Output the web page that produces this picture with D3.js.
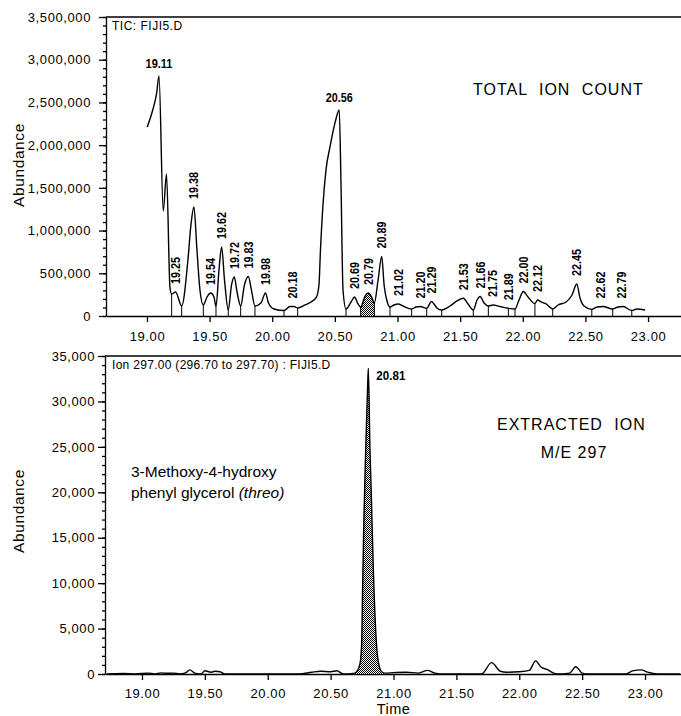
<!DOCTYPE html>
<html>
<head>
<meta charset="utf-8">
<script src="https://cdn.jsdelivr.net/npm/d3@7"></script>
<style>
body { margin: 0; background: #fff; }
svg { display: block; }
text { font-family: "Liberation Sans", Arial, sans-serif; fill: #000; }
.tick text { font-size: 13px; letter-spacing: 0.6px; }
.tick line, .domain { stroke: #000; stroke-width: 1.3px; }
.peak { font-size: 12.5px; font-weight: bold; }
</style>
</head>
<body>
<svg width="681" height="716"></svg>
<script>
/*
Data
*/

// total ion count trace (minutes, abundance)
var ticTime = [19.002, 19.046, 19.077, 19.096, 19.13, 19.156, 19.184, 19.197, 19.229, 19.277,
	19.327, 19.351, 19.375, 19.399, 19.423, 19.45, 19.479, 19.509, 19.535, 19.551,
	19.575, 19.596, 19.619, 19.649, 19.675, 19.697, 19.719, 19.748, 19.778, 19.809,
	19.834, 19.862, 19.91, 19.946, 19.97, 20.014, 20.094, 20.142, 20.174, 20.203,
	20.261, 20.309, 20.353, 20.373, 20.385, 20.405, 20.429, 20.461, 20.501, 20.535,
	20.549, 20.565, 20.589, 20.629, 20.657, 20.681, 20.706, 20.741, 20.767, 20.793,
	20.815, 20.845, 20.874, 20.893, 20.914, 20.94, 20.972, 21.006, 21.044, 21.113,
	21.148, 21.18, 21.233, 21.271, 21.291, 21.315, 21.353, 21.419, 21.475, 21.525,
	21.563, 21.605, 21.635, 21.659, 21.691, 21.725, 21.762, 21.818, 21.885, 21.938,
	21.97, 22.004, 22.042, 22.097, 22.118, 22.146, 22.186, 22.239, 22.282, 22.346,
	22.393, 22.431, 22.457, 22.489, 22.551, 22.593, 22.641, 22.718, 22.761, 22.801,
	22.87, 22.91, 22.976];
var ticAbund = [2212000, 2411000, 2607000, 2809000, 1229000, 1662000, 328000, 258000, 281000, 117000,
	656000, 1066000, 1276000, 773000, 304000, 129000, 222000, 269000, 222000, 111000,
	539000, 808000, 422000, 70000, 363000, 457000, 281000, 117000, 363000, 463000,
	304000, 117000, 152000, 269000, 152000, 82000, 64000, 111000, 111000, 94000,
	129000, 164000, 222000, 363000, 773000, 1300000, 1710000, 1979000, 2260000, 2412000,
	1534000, 304000, 82000, 164000, 222000, 152000, 105000, 234000, 269000, 222000,
	152000, 422000, 697000, 363000, 187000, 105000, 129000, 141000, 117000, 82000,
	105000, 111000, 90000, 170000, 141000, 94000, 70000, 117000, 176000, 207000,
	141000, 70000, 187000, 228000, 152000, 117000, 129000, 111000, 90000, 82000,
	187000, 287000, 222000, 146000, 187000, 164000, 141000, 82000, 129000, 164000,
	246000, 375000, 211000, 117000, 78000, 105000, 111000, 82000, 105000, 111000,
	64000, 82000, 70000];

// integration marks (peak start/end) on the TIC trace
var ticMarks = [19.197, 19.277, 19.45, 19.551, 19.649, 19.748, 19.862, 20.094, 20.203, 20.589,
	20.706, 20.815, 20.94, 21.113, 21.233, 21.353, 21.605, 21.725, 21.885, 21.938,
	22.097, 22.239, 22.551, 22.718, 22.87];

// shaded peak on the TIC
var ticShade = [20.706, 20.815];

// labelled peaks on the TIC
var peakLabels = ['19.11', '19.25', '19.38', '19.54', '19.62', '19.72', '19.83', '19.98', '20.18', '20.56',
	'20.69', '20.79', '20.89', '21.02', '21.20', '21.29', '21.53', '21.66', '21.75', '21.89',
	'22.00', '22.12', '22.45', '22.62', '22.79'];
var peakTime = [19.096, 19.229, 19.375, 19.509, 19.596, 19.697, 19.809, 19.946, 20.16, 20.535,
	20.657, 20.767, 20.874, 21.006, 21.18, 21.271, 21.525, 21.659, 21.762, 21.885,
	22.004, 22.118, 22.431, 22.62, 22.79];
var peakAbund = [2809000, 281000, 1276000, 269000, 808000, 457000, 463000, 269000, 111000, 2412000,
	222000, 269000, 697000, 141000, 111000, 170000, 207000, 228000, 129000, 90000,
	287000, 187000, 375000, 111000, 111000];
var flatLabels = ['19.11', '20.56'];

// extracted ion m/e 297 trace
var ionTime = [18.72, 18.85, 18.95, 19.05, 19.1, 19.15, 19.2, 19.25, 19.3, 19.35,
	19.38, 19.42, 19.47, 19.5, 19.55, 19.58, 19.62, 19.66, 20.25, 20.35,
	20.42, 20.5, 20.55, 20.6, 20.694, 20.707, 20.734, 20.747, 20.755, 20.765,
	20.779, 20.795, 20.80, 20.813, 20.821, 20.839, 20.861, 20.879, 20.906, 20.932,
	21.0, 21.1, 21.2, 21.27, 21.33, 21.4, 21.7, 21.78, 21.85, 21.9,
	22.0, 22.08, 22.13, 22.17, 22.22, 22.3, 22.4, 22.45, 22.5, 22.55,
	22.85, 22.9, 22.97, 23.02, 23.1, 23.28];
var ionAbund = [0, 60, 0, 100, 0, 120, 80, 100, 0, 150,
	450, 100, 0, 350, 200, 300, 250, 0, 0, 200,
	300, 250, 350, 0, 100, 250, 1170, 3380, 9980, 17300,
	24650, 32000, 33640, 24650, 21000, 11810, 4100, 1350, 250, 100,
	150, 200, 100, 400, 100, 0, 0, 1250, 300, 200,
	250, 400, 1450, 800, 500, 0, 100, 800, 100, 0,
	0, 350, 450, 200, 0, 0];
var ionShade = [20.694, 20.932];
var ionPeakLabel = '20.81';
var ionPeakTime = 20.80;
var ionPeakAbund = 33640;

// axis ticks
var timeTicks = [19.0, 19.5, 20.0, 20.5, 21.0, 21.5, 22.0, 22.5, 23.0];
var ticTicks = [0, 500000, 1000000, 1500000, 2000000, 2500000, 3000000, 3500000];
var ionTicks = [0, 5000, 10000, 15000, 20000, 25000, 30000, 35000];

/*
Set up SVG
*/

var svg = d3.select('svg');

var defs = svg.append('defs');
var pat = defs.append('pattern')
	.attr('id', 'dots')
	.attr('width', 2)
	.attr('height', 2)
	.attr('patternUnits', 'userSpaceOnUse');
pat.append('rect').attr('width', 2).attr('height', 2).attr('fill', '#fff');
pat.append('rect').attr('width', 1).attr('height', 1).attr('fill', '#000');
pat.append('rect').attr('x', 1).attr('y', 1).attr('width', 1).attr('height', 1).attr('fill', '#000');

function zip(xs, ys){
	return xs.map(function(t, i){ return {t: t, a: ys[i]}; });
}

function valueAt(data, t){
	var i = d3.bisector(function(d){ return d.t; }).left(data, t);
	if(i <= 0) return data[0].a;
	if(i >= data.length) return data[data.length - 1].a;
	var p = data[i - 1], q = data[i];
	return p.a + (q.a - p.a) * (t - p.t) / (q.t - p.t);
}

function shadeData(data, range){
	var inner = data.filter(function(d){ return d.t > range[0] && d.t < range[1]; });
	return [{t: range[0], a: valueAt(data, range[0])}].concat(inner, [{t: range[1], a: valueAt(data, range[1])}]);
}

// draws one panel: axes, frame line, trace
function drawPanel(opts){
	var x = opts.x, y = opts.y;
	var g = svg.append('g');

	g.append('line')
		.attr('x1', x.range()[0]).attr('x2', x.range()[1])
		.attr('y1', y.range()[1]).attr('y2', y.range()[1])
		.attr('stroke', '#000').attr('stroke-width', 1.5);

	var minor = g.append('g')
		.attr('transform', 'translate(' + x.range()[0] + ',0)')
		.call(d3.axisLeft(y).tickValues(opts.minorTicks).tickFormat('').tickSize(3).tickSizeOuter(0));
	minor.select('.domain').remove();
	minor.selectAll('.tick line').attr('stroke-width', 1);

	g.append('g')
		.attr('transform', 'translate(' + x.range()[0] + ',0)')
		.call(d3.axisLeft(y).tickValues(opts.yTicks).tickFormat(d3.format(',')).tickSize(7).tickPadding(opts.yPad).tickSizeOuter(0));

	g.append('g')
		.attr('transform', 'translate(0,' + y.range()[0] + ')')
		.call(d3.axisBottom(x).tickValues(timeTicks).tickFormat(d3.format('.2f')).tickSize(6).tickPadding(opts.xPad).tickSizeOuter(0));

	g.selectAll('.domain').attr('stroke-width', 1.4);

	var data = zip(opts.time, opts.abund);

	var area = d3.area()
		.curve(d3.curveMonotoneX)
		.x(function(d){ return x(d.t); })
		.y0(y(0))
		.y1(function(d){ return y(d.a); });
	g.append('path')
		.datum(shadeData(data, opts.shade))
		.attr('d', area)
		.attr('fill', 'url(#dots)');

	if(opts.marks){
		g.selectAll('line.mark')
			.data(opts.marks)
			.enter().append('line')
				.attr('class', 'mark')
				.attr('x1', function(t){ return x(t); })
				.attr('x2', function(t){ return x(t); })
				.attr('y1', function(t){ return y(valueAt(data, t)); })
				.attr('y2', y(0))
				.attr('stroke', '#000')
				.attr('stroke-width', 1);
	}

	var line = d3.line()
		.curve(d3.curveMonotoneX)
		.x(function(d){ return x(d.t); })
		.y(function(d){ return y(d.a); });
	g.append('path')
		.datum(data)
		.attr('d', line)
		.attr('fill', 'none')
		.attr('stroke', '#000')
		.attr('stroke-width', 1.4)
		.attr('stroke-linejoin', 'round');

	g.append('text')
		.attr('transform', 'translate(' + opts.labelX + ',' + opts.labelY + ') rotate(-90)')
		.attr('text-anchor', 'middle')
		.style('font-size', '15.5px')
		.style('letter-spacing', '0.6px')
		.text('Abundance');

	return g;
}

/*
Top panel: total ion count
*/

var xTop = d3.scaleLinear().domain([18.673, 23.263]).range([106, 681]);
var yTop = d3.scaleLinear().domain([0, 3500000]).range([316, 17]);

var topPanel = drawPanel({
	x: xTop, y: yTop,
	time: ticTime, abund: ticAbund,
	shade: ticShade, marks: ticMarks,
	yTicks: ticTicks, minorTicks: d3.range(0, 3500001, 100000),
	yPad: 8, xPad: 10,
	labelX: 24, labelY: 165
});

topPanel.selectAll('text.peak')
	.data(peakLabels)
	.enter().append('text')
		.attr('class', 'peak')
		.attr('textLength', 27)
		.attr('lengthAdjust', 'spacingAndGlyphs')
		.attr('transform', function(d, i){
			var px = xTop(peakTime[i]), py = yTop(peakAbund[i]) - 8;
			if(flatLabels.indexOf(d) >= 0) return 'translate(' + px + ',' + py + ')';
			return 'translate(' + (px + 4.5) + ',' + py + ') rotate(-90)';
		})
		.attr('text-anchor', function(d){ return flatLabels.indexOf(d) >= 0 ? 'middle' : 'start'; })
		.text(function(d){ return d; });

topPanel.append('text')
	.attr('x', 112).attr('y', 30)
	.style('font-size', '12px')
	.style('letter-spacing', '0.5px')
	.text('TIC: FIJI5.D');

topPanel.append('text')
	.attr('x', 473).attr('y', 95)
	.style('font-size', '16px')
	.style('letter-spacing', '1px')
	.style('word-spacing', '6px')
	.text('TOTAL ION COUNT');

/*
Bottom panel: extracted ion
*/

var xBot = d3.scaleLinear().domain([18.706, 23.286]).range([105, 681]);
var yBot = d3.scaleLinear().domain([0, 35000]).range([674, 356]);

var botPanel = drawPanel({
	x: xBot, y: yBot,
	time: ionTime, abund: ionAbund,
	shade: ionShade, marks: null,
	yTicks: ionTicks, minorTicks: d3.range(0, 35001, 1000),
	yPad: 3, xPad: 9,
	labelX: 24, labelY: 511
});

botPanel.append('text')
	.attr('class', 'peak')
	.attr('x', xBot(ionPeakTime) + 8)
	.attr('y', yBot(ionPeakAbund) + 12)
	.attr('textLength', 29)
	.attr('lengthAdjust', 'spacingAndGlyphs')
	.text(ionPeakLabel);

botPanel.append('text')
	.attr('x', 112).attr('y', 369)
	.style('font-size', '12px')
	.style('letter-spacing', '0.3px')
	.text('Ion 297.00 (296.70 to 297.70) : FIJI5.D');

botPanel.append('text')
	.attr('x', 497).attr('y', 430)
	.style('font-size', '16px')
	.style('letter-spacing', '1px')
	.style('word-spacing', '6px')
	.text('EXTRACTED ION');

botPanel.append('text')
	.attr('x', 574).attr('y', 458)
	.attr('text-anchor', 'middle')
	.style('font-size', '16px')
	.style('letter-spacing', '1px')
	.text('M/E 297');

botPanel.append('text')
	.attr('x', 131).attr('y', 477)
	.style('font-size', '15.5px')
	.text('3-Methoxy-4-hydroxy');

var gly = botPanel.append('text')
	.attr('x', 131).attr('y', 498)
	.style('font-size', '15.5px');
gly.append('tspan').text('phenyl glycerol ');
gly.append('tspan').style('font-style', 'italic').text('(threo)');

botPanel.append('text')
	.attr('x', xBot(21.0)).attr('y', 714)
	.attr('text-anchor', 'middle')
	.style('font-size', '14.5px')
	.style('letter-spacing', '0.5px')
	.text('Time');
</script>
</body>
</html>
